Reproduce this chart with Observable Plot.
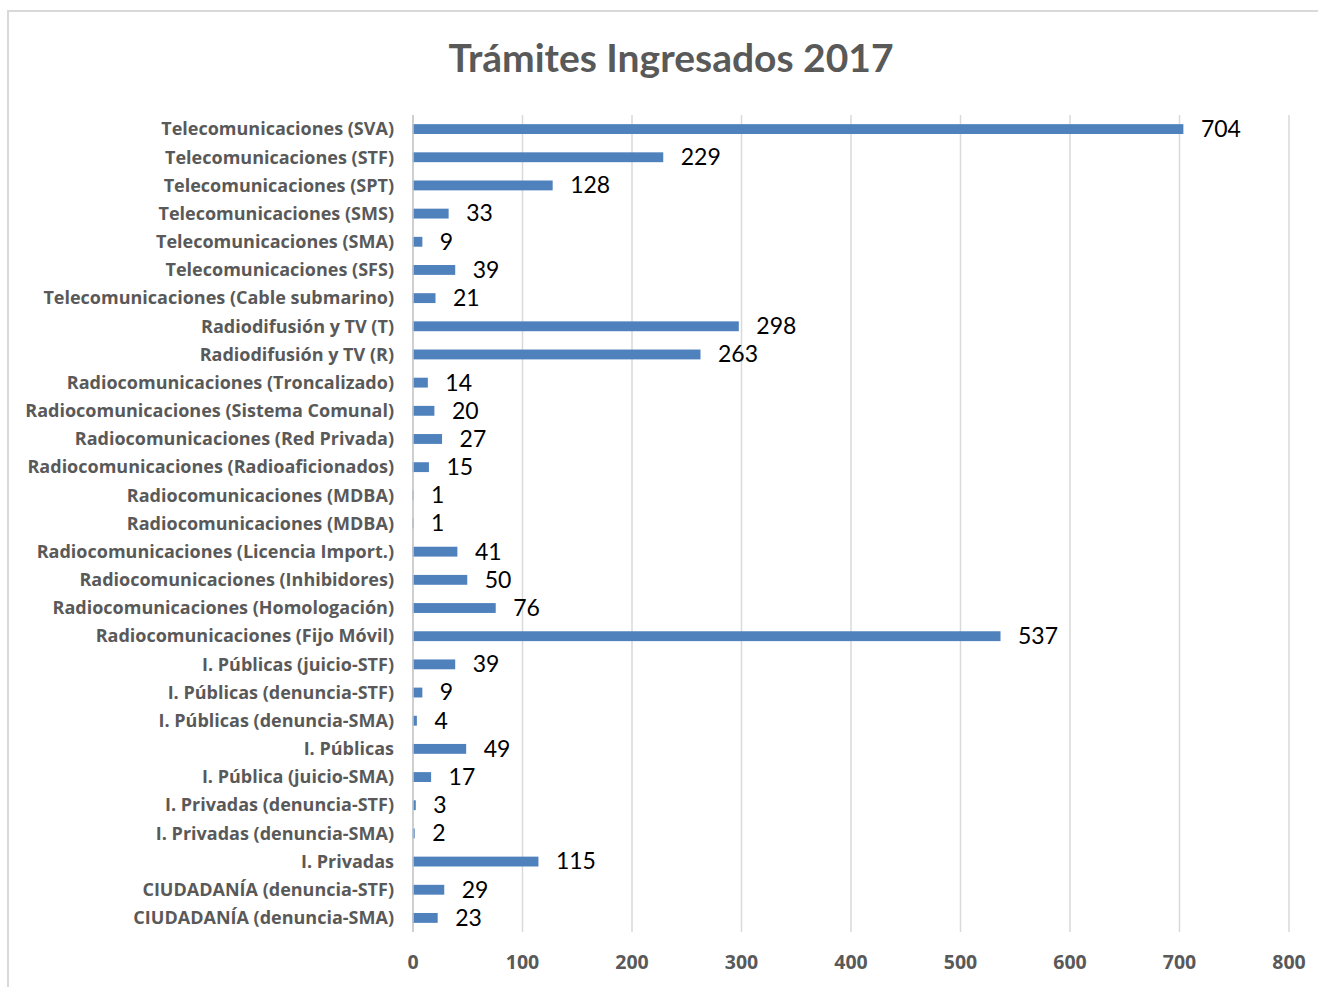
<!DOCTYPE html>
<html>
<head>
<meta charset="utf-8">
<script src="https://cdn.jsdelivr.net/npm/d3@7"></script>
<script src="https://cdn.jsdelivr.net/npm/@observablehq/plot@0.6"></script>
<style>
  html, body { margin: 0; padding: 0; background: #fff; }
  #wrap { position: relative; width: 1318px; height: 987px; overflow: hidden; font-family: Lato, "Open Sans", sans-serif; }
  #frame { position: absolute; left: 7px; top: 10px; width: 1330px; height: 1000px; border: 2px solid #d9d9d9; box-sizing: border-box; }
  #title { position: absolute; left: 0; top: 0; width: 1318px; height: 90px; text-align: center; line-height: 114px; font-size: 39px; font-weight: 700; color: #595959; padding-left: 24px; box-sizing: border-box; }
  #chart { position: absolute; left: 0; top: 90px; }
</style>
</head>
<body>
<div id="wrap">
  <div id="frame"></div>
  <div id="title">Trámites Ingresados 2017</div>
  <div id="chart"></div>
</div>
<script>
const categories = [
  "Telecomunicaciones (SVA)",
  "Telecomunicaciones (STF)",
  "Telecomunicaciones (SPT)",
  "Telecomunicaciones (SMS)",
  "Telecomunicaciones (SMA)",
  "Telecomunicaciones (SFS)",
  "Telecomunicaciones (Cable submarino)",
  "Radiodifusión y TV (T)",
  "Radiodifusión y TV (R)",
  "Radiocomunicaciones (Troncalizado)",
  "Radiocomunicaciones (Sistema Comunal)",
  "Radiocomunicaciones (Red Privada)",
  "Radiocomunicaciones (Radioaficionados)",
  "Radiocomunicaciones (MDBA)",
  "Radiocomunicaciones (MDBA)",
  "Radiocomunicaciones (Licencia Import.)",
  "Radiocomunicaciones (Inhibidores)",
  "Radiocomunicaciones (Homologación)",
  "Radiocomunicaciones (Fijo Móvil)",
  "I. Públicas (juicio-STF)",
  "I. Públicas (denuncia-STF)",
  "I. Públicas (denuncia-SMA)",
  "I. Públicas",
  "I. Pública (juicio-SMA)",
  "I. Privadas (denuncia-STF)",
  "I. Privadas (denuncia-SMA)",
  "I. Privadas",
  "CIUDADANÍA (denuncia-STF)",
  "CIUDADANÍA (denuncia-SMA)"
];
const values = [704, 229, 128, 33, 9, 39, 21, 298, 263, 14, 20, 27, 15, 1, 1, 41, 50, 76, 537, 39, 9, 4, 49, 17, 3, 2, 115, 29, 23];
const xTicks = [0, 100, 200, 300, 400, 500, 600, 700, 800];

const data = values.map((v, i) => ({i, label: categories[i], value: v}));

const chart = Plot.plot({
  width: 1318,
  height: 897,
  marginTop: 25,
  marginBottom: 55,
  marginLeft: 412.5,
  marginRight: 29.5,
  style: {fontFamily: "Lato, 'Open Sans', sans-serif", background: "transparent"},
  x: {domain: [0, 800], ticks: xTicks},
  y: {domain: d3.range(categories.length), paddingInner: 0.65, paddingOuter: 0.325, round: false},
  marks: [
    Plot.gridX(xTicks, {stroke: "#d9d9d9", strokeOpacity: 1, strokeWidth: 1.5}),
    Plot.barX(data, {x: "value", y: "i", fill: "#4f81bd"}),
    Plot.ruleX([0], {stroke: "#c8c8c8", strokeWidth: 1.5}),
    Plot.text(data, {x: "value", y: "i", text: d => String(d.value), textAnchor: "start", dx: 17, fontSize: 23, fill: "#000"}),
    Plot.axisX(xTicks, {tickSize: 0, tickPadding: 23, fontSize: 19.5, fill: "#595959", label: null}),
    Plot.axisY({tickSize: 0, tickPadding: 19, fontSize: 18, fill: "#595959", label: null, tickFormat: i => categories[i]})
  ]
});
chart.querySelectorAll("g").forEach(g => {
  const lab = g.getAttribute("aria-label") || "";
  if (lab.indexOf("axis") >= 0) {
    g.style.fontWeight = "700";
    g.style.fontFamily = "'Open Sans', 'Noto Sans', sans-serif";
  }
});
document.getElementById("chart").appendChild(chart);
</script>
</body>
</html>
